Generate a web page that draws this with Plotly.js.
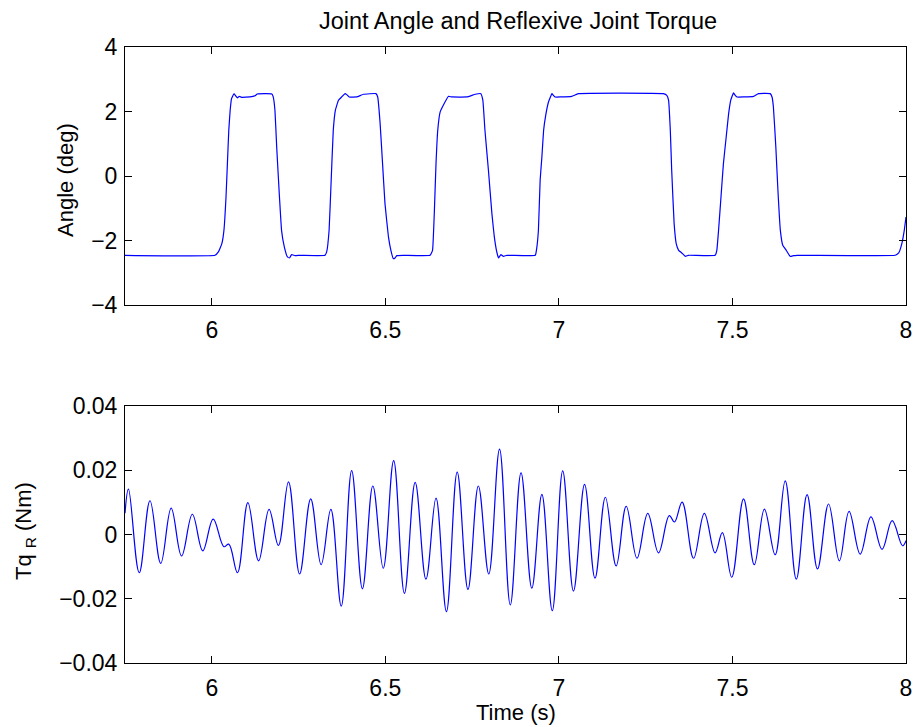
<!DOCTYPE html>
<html>
<head>
<meta charset="utf-8">
<script src="https://cdn.plot.ly/plotly-3.0.1.min.js"></script>
<style>html,body{margin:0;padding:0;background:#fff}#chart{width:915px;height:727px}</style>
</head>
<body>
<div id="chart"></div>
<script>
// ---- Data ----
var chartTitle = "Joint Angle and Reflexive Joint Torque";
var xTitle = "Time (s)";
var angleTitle = "Angle (deg)";
var torqueTitle = "Tq <sub>R</sub> (Nm)";

var angleTime = [5.750, 6.009, 6.019, 6.029, 6.035, 6.041, 6.045, 6.049, 6.053, 6.057, 6.064, 6.069, 6.074, 6.079, 6.086, 6.110, 6.125, 6.131,
  6.173, 6.177, 6.182, 6.187, 6.195, 6.201, 6.209, 6.218, 6.224, 6.230, 6.240, 6.254,
  6.326, 6.331, 6.338, 6.344, 6.350, 6.356, 6.365, 6.374, 6.384, 6.389, 6.396, 6.418, 6.437, 6.473,
  6.478, 6.485, 6.492, 6.499, 6.509, 6.516, 6.523, 6.528, 6.533, 6.552,
  6.629, 6.636, 6.641, 6.646, 6.651, 6.658, 6.667, 6.682, 6.691, 6.735, 6.759, 6.775,
  6.781, 6.787, 6.797, 6.807, 6.814, 6.821, 6.826, 6.833, 6.840, 6.850,
  6.932, 6.936, 6.941, 6.946, 6.951, 6.956, 6.962, 6.970, 6.980, 6.984, 6.989, 7.004, 7.037, 7.056, 7.301,
  7.311, 7.316, 7.321, 7.325, 7.332, 7.338, 7.345, 7.354, 7.364, 7.373,
  7.450, 7.455, 7.460, 7.467, 7.474, 7.482, 7.489, 7.495, 7.503, 7.508, 7.513, 7.532, 7.561, 7.575, 7.609,
  7.614, 7.618, 7.625, 7.631, 7.638, 7.645, 7.655, 7.666, 7.676, 7.686,
  7.969, 7.979, 7.988, 7.995, 8.000];
var angleDeg = [-2.459, -2.459, -2.355, -2.097, -1.684, -0.650, 0.384, 1.417, 2.037, 2.399, 2.554, 2.482, 2.420, 2.471, 2.440, 2.451, 2.492, 2.544,
  2.544, 2.451, 2.037, 0.900, -0.650, -1.684, -2.200, -2.510, -2.541, -2.438, -2.469, -2.459,
  -2.459, -2.355, -1.684, -0.133, 1.417, 2.037, 2.347, 2.451, 2.554, 2.523, 2.451, 2.451, 2.534, 2.554,
  2.451, 1.624, 0.384, -0.857, -1.890, -2.304, -2.562, -2.541, -2.469, -2.459,
  -2.459, -2.304, -1.167, 0.384, 1.417, 1.986, 2.192, 2.471, 2.451, 2.451, 2.534, 2.554,
  2.347, 1.417, 0.177, -1.167, -1.890, -2.355, -2.541, -2.438, -2.490, -2.459,
  -2.459, -2.252, -1.684, -0.133, 0.590, 1.417, 1.882, 2.296, 2.554, 2.502, 2.451, 2.451, 2.471, 2.554, 2.554,
  2.502, 2.347, 1.417, 0.177, -1.477, -2.097, -2.304, -2.386, -2.490, -2.459,
  -2.459, -2.304, -1.684, -0.650, 0.384, 1.211, 1.934, 2.347, 2.575, 2.502, 2.451, 2.451, 2.471, 2.554, 2.554,
  2.451, 2.141, 0.900, -0.443, -1.684, -2.149, -2.304, -2.490, -2.469, -2.459,
  -2.459, -2.386, -2.097, -1.684, -1.270];

var torqueTime = [5.750, 5.760, 5.791, 5.822, 5.853, 5.883, 5.913, 5.944, 5.974, 6.004, 6.035, 6.049, 6.074, 6.104, 6.135, 6.165, 6.192, 6.221, 6.253, 6.285,
  6.315, 6.343, 6.373, 6.403, 6.434, 6.464, 6.494, 6.524, 6.555, 6.586, 6.617, 6.646, 6.676, 6.707, 6.738, 6.768, 6.798, 6.829, 6.860, 6.891,
  6.922, 6.951, 6.981, 7.011, 7.042, 7.074, 7.104, 7.134, 7.165, 7.194, 7.225, 7.256, 7.287, 7.318, 7.333, 7.355, 7.388, 7.419, 7.450, 7.471,
  7.498, 7.532, 7.563, 7.592, 7.623, 7.652, 7.684, 7.715, 7.745, 7.777, 7.808, 7.836, 7.868, 7.899, 7.931, 7.960, 7.990, 8.000];
var torqueNm = [0.0066, 0.0141, -0.0119, 0.0105, -0.0090, 0.0082, -0.0067, 0.0063, -0.0051, 0.0048, -0.0038, -0.0030, -0.0119, 0.0099, -0.0082, 0.0078, -0.0034, 0.0164, -0.0123, 0.0111,
  -0.0094, 0.0078, -0.0223, 0.0199, -0.0169, 0.0151, -0.0105, 0.0230, -0.0183, 0.0162, -0.0139, 0.0113, -0.0240, 0.0194, -0.0171, 0.0151, -0.0123, 0.0266, -0.0219, 0.0192,
  -0.0167, 0.0125, -0.0237, 0.0198, -0.0176, 0.0156, -0.0136, 0.0116, -0.0098, 0.0088, -0.0074, 0.0066, -0.0057, 0.0059, 0.0039, 0.0101, -0.0074, 0.0066, -0.0057, 0.0006,
  -0.0133, 0.0111, -0.0094, 0.0079, -0.0063, 0.0167, -0.0139, 0.0124, -0.0107, 0.0095, -0.0082, 0.0072, -0.0061, 0.0055, -0.0046, 0.0043, -0.0035, -0.0019];

var xRange = [5.75, 8];
var angleRange = [-4, 4];
var torqueRange = [-0.04, 0.04];

// ---- Chart ----
var W = 915, H = 727;
var font = "Liberation Sans, Arial, Helvetica, sans-serif";
var tickFont = {family: font, size: 23, color: "#000"};

function xAxis(anchor) {
  return {
    domain: [125 / W, 906 / W], anchor: anchor, range: xRange, dtick: 0.5, tick0: 6,
    showgrid: false, zeroline: false, showline: true, linecolor: "#000", linewidth: 1,
    mirror: "ticks", ticks: "inside", ticklen: 7, tickwidth: 1, tickcolor: "#000",
    tickfont: tickFont, ticklabelstandoff: 4, fixedrange: true
  };
}
function yAxis(domain, anchor, range, dtick) {
  return {
    domain: domain, anchor: anchor, range: range, dtick: dtick,
    showgrid: false, zeroline: false, showline: true, linecolor: "#000", linewidth: 1,
    mirror: "ticks", ticks: "inside", ticklen: 7, tickwidth: 1, tickcolor: "#000",
    tickfont: tickFont, ticklabelstandoff: 2, fixedrange: true
  };
}

var traces = [
  {x: angleTime, y: angleDeg, xaxis: "x", yaxis: "y", type: "scatter", mode: "lines",
   line: {color: "#0000ff", width: 1.2, shape: "spline", smoothing: 0.3}, hoverinfo: "skip"},
  {x: torqueTime, y: torqueNm, xaxis: "x2", yaxis: "y2", type: "scatter", mode: "lines",
   line: {color: "#0000ff", width: 1.2, shape: "spline", smoothing: 1.1}, hoverinfo: "skip"}
];

var layout = {
  width: W, height: H, margin: {l: 0, r: 0, t: 0, b: 0},
  paper_bgcolor: "#fff", plot_bgcolor: "#fff", showlegend: false,
  xaxis: xAxis("y"),
  yaxis: yAxis([(H - 305) / H, (H - 47) / H], "x", angleRange, 2),
  xaxis2: xAxis("y2"),
  yaxis2: yAxis([(H - 663) / H, (H - 406) / H], "x2", torqueRange, 0.02),
  annotations: [
    {text: chartTitle, xref: "paper", yref: "paper", x: 518 / W, y: 1 - 21 / H, xanchor: "center", yanchor: "middle",
     showarrow: false, font: {family: font, size: 23.5, color: "#000"}},
    {text: angleTitle, xref: "paper", yref: "paper", x: 66 / W, y: 1 - 180 / H, xanchor: "center", yanchor: "middle",
     textangle: -90, showarrow: false, font: {family: font, size: 22, color: "#000"}},
    {text: torqueTitle, xref: "paper", yref: "paper", x: 25 / W, y: 1 - 531 / H, xanchor: "center", yanchor: "middle",
     textangle: -90, showarrow: false, font: {family: font, size: 22, color: "#000"}},
    {text: xTitle, xref: "paper", yref: "paper", x: 516 / W, y: 1 - 712 / H, xanchor: "center", yanchor: "middle",
     showarrow: false, font: {family: font, size: 22, color: "#000"}}
  ]
};

Plotly.newPlot("chart", traces, layout, {staticPlot: true, displayModeBar: false});
</script>
</body>
</html>
